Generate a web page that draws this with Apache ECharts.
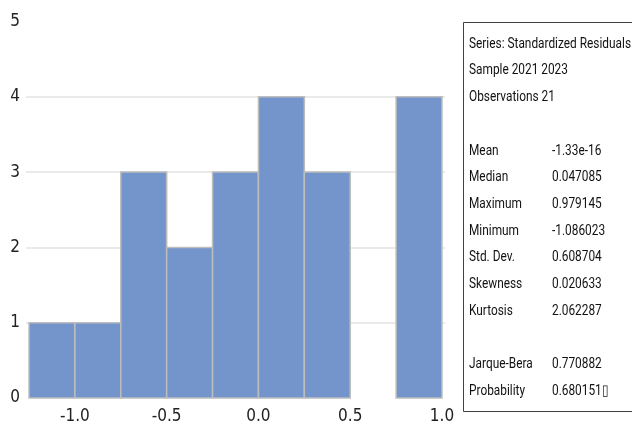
<!DOCTYPE html>
<html>
<head>
<meta charset="utf-8">
<script src="https://cdn.jsdelivr.net/npm/echarts@6/dist/echarts.min.js"></script>
<style>
html,body{margin:0;padding:0;background:#fff;}
#chart{width:632px;height:429px;}
</style>
</head>
<body>
<div id="chart"></div>
<script>
// Histogram bins (lower edge, upper edge) and counts
const binLower = [-1.25, -1.0, -0.75, -0.5, -0.25, 0.0, 0.25, 0.5, 0.75];
const binUpper = [-1.0, -0.75, -0.5, -0.25, 0.0, 0.25, 0.5, 0.75, 1.0];
const binCounts = [1, 1, 3, 2, 3, 4, 3, 0, 4];
const xTickValues = [-1.0, -0.5, 0.0, 0.5, 1.0];
const yTickValues = [0, 1, 2, 3, 4, 5];

// Statistics panel
const headerLines = ["Series: Standardized Residuals", "Sample 2021 2023", "Observations 21"];
const statLabels = ["Mean", "Median", "Maximum", "Minimum", "Std. Dev.", "Skewness", "Kurtosis"];
const statValues = ["-1.33e-16", "0.047085", "0.979145", "-1.086023", "0.608704", "0.020633", "2.062287"];
const testLabels = ["Jarque-Bera", "Probability"];
const testValues = ["0.770882", "0.680151\u25AF"];

const FONT = '"DejaVu Sans Condensed", Roboto, sans-serif';
const PFONT = '15px Roboto, sans-serif';
const chart = echarts.init(document.getElementById('chart'), null, {renderer: 'canvas'});

const histData = binCounts.map((c, i) => [binLower[i], binUpper[i], c]);

// narrow the panel text to match the condensed look of the reference
const mctx = document.createElement('canvas').getContext('2d');
mctx.font = PFONT;
const sx = 162 / mctx.measureText(headerLines[0]).width;

const panel = [];
panel.push({
  type: 'rect', left: 463, top: 22, z: 10,
  shape: {width: 200, height: 389},
  style: {fill: '#fff', stroke: '#404040', lineWidth: 1}
});
const rows = [];
headerLines.forEach(t => rows.push([t, null]));
rows.push(null);
statLabels.forEach((t, i) => rows.push([t, statValues[i]]));
rows.push(null);
testLabels.forEach((t, i) => rows.push([t, testValues[i]]));
rows.forEach((r, i) => {
  if (!r) return;
  const y = 44 + i * 26.7;
  panel.push({type: 'text', x: 469, y: y, z: 11, scaleX: sx, originX: 0,
    style: {text: r[0], fill: '#111', font: PFONT, textVerticalAlign: 'middle', textAlign: 'left'}});
  if (r[1] !== null) {
    panel.push({type: 'text', x: 552, y: y, z: 11, scaleX: sx, originX: 0,
      style: {text: r[1], fill: '#111', font: PFONT, textVerticalAlign: 'middle', textAlign: 'left'}});
  }
});

chart.setOption({
  animation: false,
  backgroundColor: '#ffffff',
  grid: {left: 26, right: 187, top: 21.5, bottom: 31, containLabel: false},
  xAxis: {
    type: 'value', min: -1.2664, max: 1.0164,
    axisLine: {show: false}, axisTick: {show: false}, splitLine: {show: false},
    axisLabel: {
      customValues: xTickValues,
      formatter: v => v.toFixed(1),
      color: '#222', fontSize: 17, fontFamily: FONT, margin: 10
    }
  },
  yAxis: {
    type: 'value', min: 0, max: 5, interval: 1,
    axisLine: {show: false}, axisTick: {show: false},
    axisLabel: {color: '#222', fontSize: 17, fontFamily: FONT, margin: 6},
    splitLine: {show: true, lineStyle: {color: ['rgba(0,0,0,0)', '#e3e3e3', '#e3e3e3', '#e3e3e3', '#e3e3e3', 'rgba(0,0,0,0)'], width: 1.5}}
  },
  series: [{
    type: 'custom',
    data: histData,
    renderItem: function (params, api) {
      const p0 = api.coord([api.value(0), 0]);
      const p1 = api.coord([api.value(1), api.value(2)]);
      if (api.value(2) <= 0) return null;
      return {
        type: 'rect',
        shape: {x: p0[0], y: p1[1], width: p1[0] - p0[0], height: p0[1] - p1[1]},
        style: {fill: '#7495CC', stroke: '#BDBDBD', lineWidth: 1.5}
      };
    },
    encode: {x: [0, 1], y: 2}
  }],
  graphic: panel
});
</script>
</body>
</html>
